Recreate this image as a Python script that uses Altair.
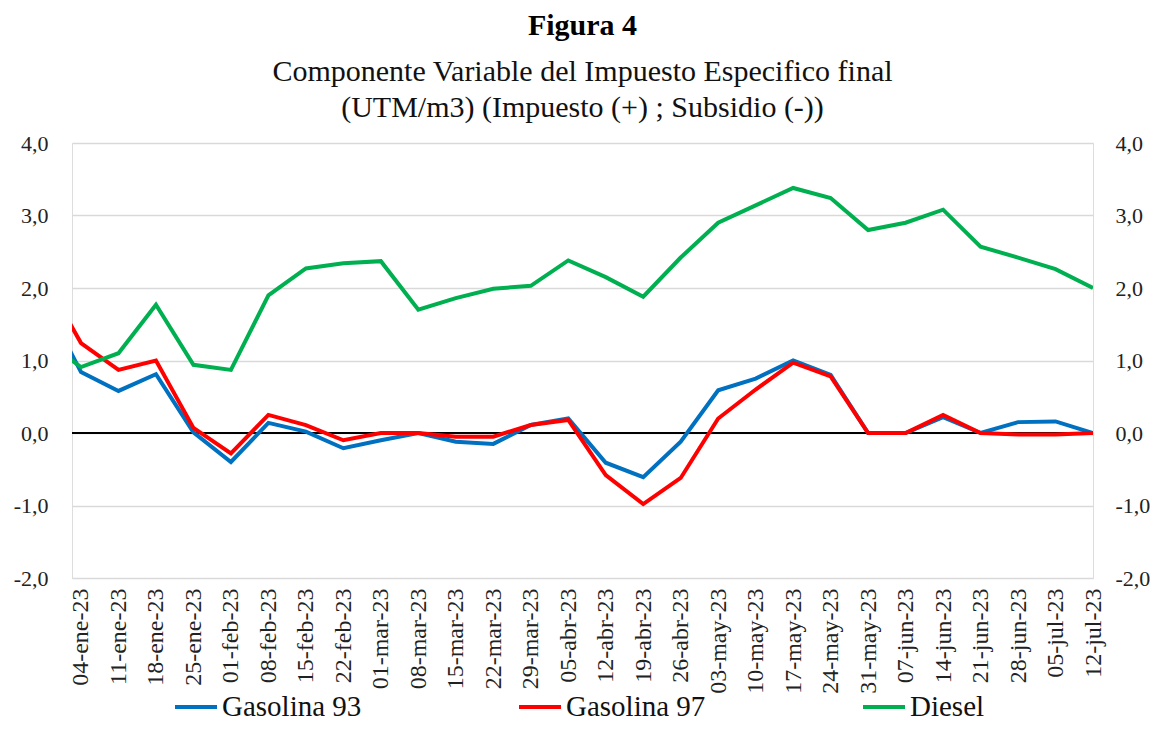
import altair as alt
import pandas as pd

# Weekly dates (x-axis labels)
fechas = ["04-ene-23", "11-ene-23", "18-ene-23", "25-ene-23", "01-feb-23", "08-feb-23",
          "15-feb-23", "22-feb-23", "01-mar-23", "08-mar-23", "15-mar-23", "22-mar-23",
          "29-mar-23", "05-abr-23", "12-abr-23", "19-abr-23", "26-abr-23", "03-may-23",
          "10-may-23", "17-may-23", "24-may-23", "31-may-23", "07-jun-23", "14-jun-23",
          "21-jun-23", "28-jun-23", "05-jul-23", "12-jul-23"]

# Previous week (28-dic-22), only partly visible at the left edge
prev_g93 = 1.84
prev_g97 = 2.16
prev_diesel = 1.29

gasolina93 = [0.84, 0.58, 0.81, 0.01, -0.40, 0.14, 0.02, -0.21, -0.10, 0.00, -0.12, -0.15,
              0.11, 0.20, -0.41, -0.61, -0.12, 0.59, 0.75, 1.00, 0.80, 0.00, 0.00, 0.22,
              0.00, 0.15, 0.16, 0.00]
gasolina97 = [1.24, 0.87, 1.00, 0.07, -0.28, 0.25, 0.11, -0.10, 0.00, 0.00, -0.05, -0.05,
              0.11, 0.18, -0.58, -0.98, -0.62, 0.20, 0.60, 0.97, 0.78, 0.00, 0.00, 0.25,
              0.00, -0.02, -0.02, 0.00]
diesel = [0.91, 1.10, 1.77, 0.94, 0.87, 1.90, 2.27, 2.34, 2.37, 1.70, 1.86, 1.99,
          2.03, 2.38, 2.15, 1.88, 2.42, 2.90, 3.14, 3.38, 3.24, 2.80, 2.90, 3.08,
          2.57, 2.42, 2.26, 2.00]

series = ["Gasolina 93", "Gasolina 97", "Diesel"]
colores = ["#0070C0", "#FF0000", "#00B050"]

rows = []
for name, prev, vals in zip(series, [prev_g93, prev_g97, prev_diesel],
                            [gasolina93, gasolina97, diesel]):
    rows.append({"idx": -1, "serie": name, "valor": prev})
    for i, v in enumerate(vals):
        rows.append({"idx": i, "serie": name, "valor": v})
df = pd.DataFrame(rows)

FONT = "'Liberation Serif', 'Times New Roman', serif"
label_arr = "[" + ",".join("'" + f + "'" for f in fechas) + "]"
ydom = [-2, 4]
yvals = [-2, -1, 0, 1, 2, 3, 4]
ylabel = "replace(replace(format(datum.value, '.1f'), '.', ','), '\u2212', '-')"
xscale = alt.Scale(domain=[-0.24, 27], nice=False, zero=False)

xenc = alt.X("idx:Q", scale=xscale,
             axis=alt.Axis(values=list(range(len(fechas))),
                           labelExpr=label_arr + "[datum.value]",
                           labelAngle=270, labelFont=FONT, labelFontSize=24,
                           labelColor="#222222", labelPadding=10,
                           grid=False, ticks=False, domain=False, title=None,
                           labelOverlap=False))

lines = alt.Chart(df).mark_line(strokeWidth=4, clip=True).encode(
    x=xenc,
    y=alt.Y("valor:Q", scale=alt.Scale(domain=ydom, nice=False),
            axis=alt.Axis(values=yvals, labelExpr=ylabel, labelFont=FONT,
                          labelFontSize=22, labelColor="#222222", labelPadding=24,
                          ticks=False, domain=False, grid=True, gridColor="#d9d9d9",
                          gridWidth=1.5, title=None)),
    color=alt.Color("serie:N", scale=alt.Scale(domain=series, range=colores),
                    sort=series,
                    legend=alt.Legend(title=None, orient="none", legendX=101, legendY=541,
                                      direction="horizontal", symbolType="stroke",
                                      symbolStrokeWidth=4, symbolSize=1764,
                                      labelFont=FONT, labelFontSize=29, labelColor="#111111",
                                      labelOffset=3, columnPadding=149, gridAlign="all",
                                      labelLimit=400)),
    detail="serie:N",
)

zero = alt.Chart(pd.DataFrame({"y": [0]})).mark_rule(color="black", strokeWidth=2).encode(
    y=alt.Y("y:Q", scale=alt.Scale(domain=ydom, nice=False))
)

right = alt.Chart(pd.DataFrame({"y": yvals})).mark_rule(opacity=0).encode(
    y=alt.Y("y:Q", scale=alt.Scale(domain=ydom, nice=False),
            axis=alt.Axis(orient="right", values=yvals, labelExpr=ylabel, labelFont=FONT,
                          labelFontSize=22, labelColor="#222222", labelPadding=22,
                          ticks=False, domain=False, grid=False, title=None)),
)

chart = alt.layer(alt.layer(zero, lines), right).resolve_scale(y="independent").properties(
    width=1021, height=435,
    padding={"left": 5, "right": 0, "top": 3, "bottom": 0},
    title=alt.TitleParams(
        text="Figura 4",
        subtitle=["Componente Variable del Impuesto Especifico final",
                  "(UTM/m3) (Impuesto (+) ; Subsidio (-))"],
        font=FONT, fontSize=30, fontWeight="bold", color="black",
        subtitleFont=FONT, subtitleFontSize=30, subtitleColor="#111111",
        subtitleLineHeight=36, subtitlePadding=16, anchor="middle", offset=9,
    ),
).configure_view(stroke=None).configure(background="white")

chart.save("out.html", embed_options={"renderer": "svg", "actions": False})
